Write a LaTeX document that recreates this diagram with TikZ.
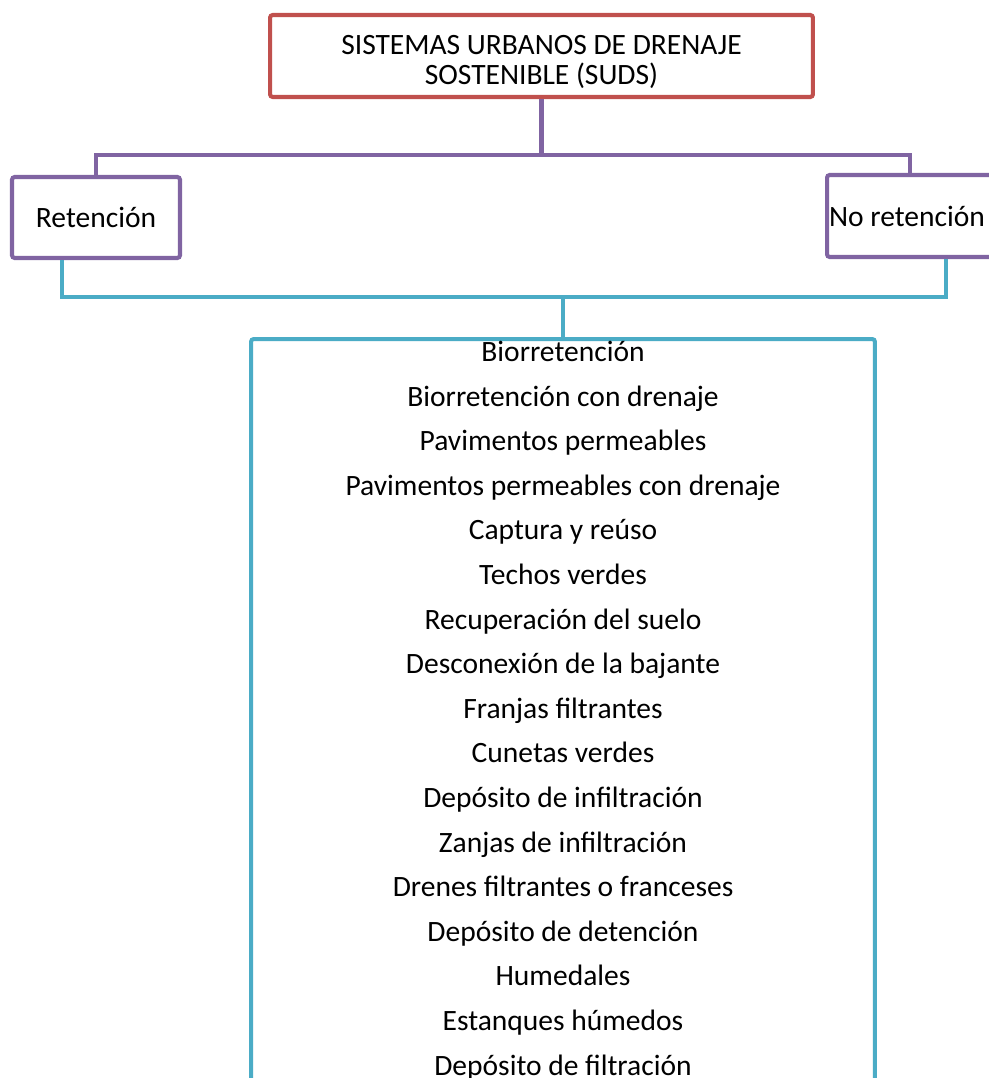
\documentclass[tikz,border=0pt]{standalone}
\usepackage{fontspec}
\setmainfont{Carlito}
\usepackage{xcolor}

\definecolor{sudsred}{HTML}{C0504D}
\definecolor{sudspurple}{HTML}{8064A2}
\definecolor{sudscyan}{HTML}{4BACC6}

\begin{document}
\begin{tikzpicture}[x=0.02cm,y=-0.02cm,
  every node/.style={font=\fontsize{16.8}{17}\selectfont},
  box/.style={draw,line width=2.3pt,rounded corners=1.5pt,inner sep=0pt,fill=white},
  wire/.style={line width=2.3pt},
  item/.style={inner sep=0pt,anchor=center,text height=12pt,text depth=4pt}]
\useasboundingbox (0,0) rectangle (989,1078);
\clip (0,0) rectangle (989,1078);
% main heading
\node[box,draw=sudsred,minimum width=10.86cm,minimum height=1.64cm] (suds) at (541.5,56) {};
\node[align=center,inner sep=0pt] (sudstxt) at (541.5,62) {SISTEMAS URBANOS DE DRENAJE\\SOSTENIBLE (SUDS)};
% two groups
\node[box,draw=sudspurple,minimum width=3.36cm,minimum height=1.62cm] (ret) at (96,217.5) {Retención};
\node[box,draw=sudspurple,minimum width=3.32cm,minimum height=1.64cm] (noret) at (910,216) {\hspace*{-0.12cm}No retención};
\coordinate (pbar) at (541.5,155);
\draw[wire,sudspurple] (ret.north) |- (pbar) -| (noret.north);
\draw[wire,sudspurple] (suds.south) -- (pbar);
% list of techniques
\node[box,draw=sudscyan,minimum width=12.48cm,minimum height=16cm] (lst) at (563,739) {};
\coordinate (cbar) at (563,297);
\draw[wire,sudscyan] ([xshift=-0.68cm]ret.south) |- (cbar) -| ([xshift=0.72cm]noret.south);
\draw[wire,sudscyan] (cbar) -- (lst.north);
\foreach \txt [count=\i] in {Biorretención,Biorretención con drenaje,Pavimentos permeables,
  Pavimentos permeables con drenaje,Captura y reúso,Techos verdes,Recuperación del suelo,
  Desconexión de la bajante,Franjas filtrantes,Cunetas verdes,Depósito de infiltración,
  Zanjas de infiltración,Drenes filtrantes o franceses,Depósito de detención,Humedales,
  Estanques húmedos,Depósito de filtración}
  \node[item] (it\i) at (563,{354.5+44.6*(\i-1)}) {\txt};
\end{tikzpicture}
\end{document}
